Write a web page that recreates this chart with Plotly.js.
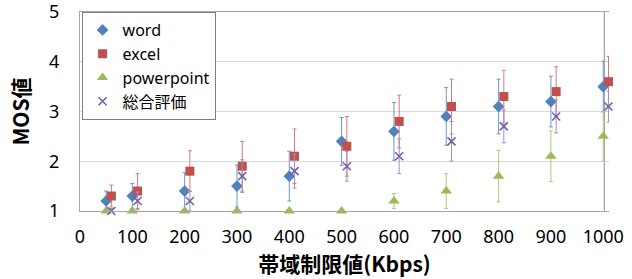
<!DOCTYPE html>
<html>
<head>
<meta charset="utf-8">
<script src="https://cdn.plot.ly/plotly-3.0.1.min.js"></script>
<style>html,body{margin:0;padding:0;background:#fff;}#chart{width:632px;height:279px;}</style>
</head>
<body>
<div id="chart"></div>
<script>
// Bandwidth limit (Kbps)
const bandwidth = [50, 100, 200, 300, 400, 500, 600, 700, 800, 900, 1000];
const bandwidthShifted = [60, 110, 210, 310, 410, 510, 610, 710, 810, 910, 1010];
const xTickVals = [0, 100, 200, 300, 400, 500, 600, 700, 800, 900, 1000];
const yTickVals = [1, 2, 3, 4, 5];

const wordMOS = [1.2, 1.3, 1.4, 1.5, 1.7, 2.4, 2.6, 2.9, 3.1, 3.2, 3.5];
const wordErr = [0.2, 0.25, 0.37, 0.42, 0.5, 0.48, 0.58, 0.58, 0.55, 0.51, 0.51];

const excelMOS = [1.3, 1.4, 1.8, 1.9, 2.1, 2.3, 2.8, 3.1, 3.3, 3.4, 3.6];
const excelErr = [0.22, 0.35, 0.41, 0.5, 0.55, 0.6, 0.53, 0.55, 0.53, 0.5, 0.51];

const pptMOS = [1.0, 1.0, 1.0, 1.0, 1.0, 1.0, 1.2, 1.4, 1.7, 2.1, 2.5];
const pptErr = [0, 0, 0, 0, 0, 0, 0.15, 0.35, 0.52, 0.51, 0.5];

const totalMOS = [1.0, 1.2, 1.2, 1.7, 1.8, 1.9, 2.1, 2.4, 2.7, 2.9, 3.1];
const totalErr = [0.05, 0.18, 0.2, 0.33, 0.34, 0.3, 0.35, 0.4, 0.33, 0.33, 0.31];

const names = ['word', 'excel', 'powerpoint', '総合評価'];

function errBar(arr, color) {
  return {type: 'data', array: arr, visible: true, color: color, thickness: 1, width: 2};
}

const traces = [
  {x: bandwidth, y: wordMOS, name: names[0], type: 'scatter', mode: 'markers', cliponaxis: false,
   marker: {symbol: 'diamond', size: 9, color: '#4F81BD'}, error_y: errBar(wordErr, '#6F95C8')},
  {x: bandwidthShifted, y: excelMOS, name: names[1], type: 'scatter', mode: 'markers', cliponaxis: false,
   marker: {symbol: 'square', size: 9, color: '#C0504D'}, error_y: errBar(excelErr, '#D47A78')},
  {x: bandwidth, y: pptMOS, name: names[2], type: 'scatter', mode: 'markers', cliponaxis: false,
   marker: {symbol: 'triangle-up', size: 10, color: '#9BBB59'}, error_y: errBar(pptErr, '#AFC97A')},
  {x: bandwidthShifted, y: totalMOS, name: names[3], type: 'scatter', mode: 'markers', cliponaxis: false,
   marker: {symbol: 'x-thin', size: 8, color: '#8064A2', line: {color: '#7060A8', width: 1.6}}, error_y: errBar(totalErr, '#A58FC2')}
];

const layout = {
  width: 632, height: 279,
  margin: {l: 80, r: 23, t: 12, b: 68},
  paper_bgcolor: '#ffffff', plot_bgcolor: '#ffffff',
  font: {family: '"Noto Sans", "Noto Sans CJK JP", sans-serif', color: '#000'},
  showlegend: true,
  legend: {
    x: 0.003, y: 1, xanchor: 'left', yanchor: 'top',
    bgcolor: '#ffffff', bordercolor: '#7f7f7f', borderwidth: 1,
    font: {size: 16, family: '"Noto Sans", "Noto Sans CJK JP", sans-serif'},
    tracegroupgap: 0, itemwidth: 30
  },
  xaxis: {
    range: [0, 1011], tickvals: xTickVals, ticktext: xTickVals.map(String),
    showgrid: false, zeroline: false, showline: true, mirror: true,
    linecolor: '#a6a6a6', linewidth: 1, ticks: '', ticklabelstandoff: 9,
    ticklabeloverflow: 'allow', tickfont: {size: 18},
    title: {text: '帯域制限値(Kbps)', font: {size: 21, family: '"Noto Sans CJK JP", sans-serif', weight: 'bold'}, standoff: 5}
  },
  yaxis: {
    range: [0.999, 5.001], tickvals: yTickVals, ticktext: yTickVals.map(String),
    showgrid: true, gridcolor: '#d9d9d9', gridwidth: 1,
    zeroline: false, showline: true, mirror: false, linecolor: '#a6a6a6', linewidth: 1,
    ticks: '', ticklabelstandoff: 16, ticklabeloverflow: 'allow', tickfont: {size: 18},
    title: {text: 'MOS値', font: {size: 21, family: '"Noto Sans CJK JP", sans-serif', weight: 'bold'}, standoff: 13}
  },
  shapes: [
    {type: 'line', xref: 'x', yref: 'paper', x0: 1002, x1: 1002, y0: 0, y1: 1,
     line: {color: '#8c8c8c', width: 1}, layer: 'below'}
  ]
};

Plotly.newPlot('chart', traces, layout, {staticPlot: true, displayModeBar: false});
</script>
</body>
</html>
